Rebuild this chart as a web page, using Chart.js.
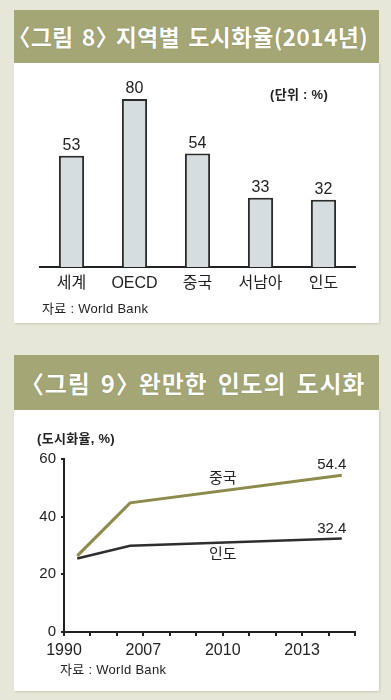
<!DOCTYPE html>
<html>
<head>
<meta charset="utf-8">
<script src="https://cdn.jsdelivr.net/npm/chart.js@4.4.1/dist/chart.umd.min.js"></script>
<style>
  html, body { margin: 0; padding: 0; }
  body { width: 391px; height: 700px; background: #e7e7d9; position: relative; overflow: hidden;
         font-family: "Liberation Sans", "Noto Sans CJK KR", sans-serif; color: #222; }
  .panel { position: absolute; left: 14px; width: 365px; }
  .head { height: 53px; background: #a4a675; color: #fff; font-family: "Noto Sans CJK KR", sans-serif;
          font-weight: bold; font-size: 23px; line-height: 53px; white-space: nowrap; letter-spacing: 0.2px;
          word-spacing: 3px; font-feature-settings: "halt"; text-shadow: 0 0 1px #6d6f45; }
  .body { position: relative; background: #fff; box-shadow: 1px 1px 2px #c9c9b6; }
  .note { position: absolute; font-size: 13px; white-space: nowrap; letter-spacing: 0.3px; }
  canvas { display: block; }
</style>
</head>
<body>
<div class="panel" style="top:10px">
  <div class="head" style="padding-left:5px">〈그림 8〉 지역별 도시화율(2014년)</div>
  <div class="body" style="height:260px">
    <canvas id="bars" width="365" height="260"></canvas>
    <div class="note" style="left:256px; top:21px; font-weight:bold">(단위 : %)</div>
    <div class="note" style="left:28px; top:235px">자료 : World Bank</div>
  </div>
</div>
<div class="panel" style="top:355px">
  <div class="head" style="padding-left:18px; height:55px; line-height:55px; font-size:24px; letter-spacing:0.8px; word-spacing:4px">〈그림 9〉 완만한 인도의 도시화</div>
  <div class="body" style="height:281px">
    <canvas id="lines" width="365" height="281"></canvas>
    <div class="note" style="left:23px; top:18px; font-weight:bold">(도시화율, %)</div>
    <div class="note" style="left:46px; top:249px">자료 : World Bank</div>
  </div>
</div>
<script>
// 그림 8: 지역별 도시화율 (2014년, %)
const regions = ['세계', 'OECD', '중국', '서남아', '인도'];
const urbanRate2014 = [53, 80, 54, 33, 32];

// 그림 9: 도시화율 추이 (%), x는 축 눈금 위치
const yearTickLabels = ['1990', '', '', '2007', '', '', '2010', '', '', '2013', '', ''];
const trendX = [0.5, 2.5, 10.5];
const chinaRate = [26.4, 44.8, 54.4];
const indiaRate = [25.5, 29.9, 32.4];

const ink = '#222';

const barLabels = {
  id: 'barLabels',
  afterDatasetsDraw(chart) {
    const ctx = chart.ctx;
    const meta = chart.getDatasetMeta(0);
    ctx.save();
    ctx.font = '16px "Liberation Sans", sans-serif';
    ctx.fillStyle = ink;
    ctx.textAlign = 'center';
    ctx.textBaseline = 'bottom';
    meta.data.forEach((bar, i) => {
      ctx.fillText(String(urbanRate2014[i]), bar.x, bar.y - 2);
    });
    ctx.restore();
  }
};

new Chart(document.getElementById('bars'), {
  type: 'bar',
  data: {
    labels: regions,
    datasets: [{
      data: urbanRate2014,
      backgroundColor: '#d5dde0',
      borderColor: '#2b2b2b',
      borderWidth: 2,
      borderSkipped: 'bottom',
      barPercentage: 0.4,
      categoryPercentage: 1
    }]
  },
  options: {
    responsive: false,
    animation: false,
    layout: { padding: { left: 26, right: 24, top: 15, bottom: 0 } },
    plugins: { legend: { display: false }, tooltip: { enabled: false } },
    scales: {
      x: {
        grid: { display: false, drawTicks: false },
        border: { color: ink, width: 2 },
        ticks: { color: ink, padding: 7, font: { size: 16, family: '"Liberation Sans", "Noto Sans CJK KR", sans-serif' } },
        afterFit: s => { s.height = 56; }
      },
      y: { display: false, min: 0, max: 90 }
    }
  },
  plugins: [barLabels]
});

const lineLabels = {
  id: 'lineLabels',
  afterDatasetsDraw(chart) {
    const ctx = chart.ctx;
    const x = chart.scales.x, y = chart.scales.y;
    ctx.save();
    ctx.font = '15px "Liberation Sans", "Noto Sans CJK KR", sans-serif';
    ctx.fillStyle = ink;
    ctx.textAlign = 'center';
    ctx.textBaseline = 'middle';
    // end values
    const last = trendX.length - 1;
    ctx.fillText(chinaRate[last].toFixed(1), x.getPixelForValue(trendX[last]) - 10, y.getPixelForValue(chinaRate[last]) - 10);
    ctx.fillText(indiaRate[last].toFixed(1), x.getPixelForValue(trendX[last]) - 10, y.getPixelForValue(indiaRate[last]) - 10);
    // series names
    const at = 6;
    const interp = (arr) => {
      const k = trendX.findIndex((v, i) => i < last && at >= v && at <= trendX[i + 1]);
      const t = (at - trendX[k]) / (trendX[k + 1] - trendX[k]);
      return arr[k] + t * (arr[k + 1] - arr[k]);
    };
    ctx.fillText('중국', x.getPixelForValue(at), y.getPixelForValue(interp(chinaRate)) - 12);
    ctx.fillText('인도', x.getPixelForValue(at), y.getPixelForValue(interp(indiaRate)) + 12);
    ctx.restore();
  }
};

const tickFont = { size: 16, family: '"Liberation Sans", sans-serif' };

new Chart(document.getElementById('lines'), {
  type: 'line',
  data: {
    datasets: [
      { label: '중국', data: trendX.map((v, i) => ({ x: v, y: chinaRate[i] })), borderColor: '#8d8a4b', borderWidth: 3, pointRadius: 0, tension: 0 },
      { label: '인도', data: trendX.map((v, i) => ({ x: v, y: indiaRate[i] })), borderColor: '#2e2e2e', borderWidth: 2.5, pointRadius: 0, tension: 0 }
    ]
  },
  options: {
    responsive: false,
    animation: false,
    layout: { padding: { left: 0, right: 24, top: 49, bottom: 0 } },
    plugins: { legend: { display: false }, tooltip: { enabled: false } },
    scales: {
      x: {
        type: 'linear', min: 0, max: yearTickLabels.length - 1,
        grid: { drawOnChartArea: false, drawTicks: true, tickLength: 4, color: ink, lineWidth: 2 },
        border: { color: ink, width: 2 },
        ticks: {
          stepSize: 1, autoSkip: false, maxRotation: 0, color: ink, padding: 5, font: tickFont,
          callback: v => yearTickLabels[v]
        },
        afterFit: s => { s.height = 59; }
      },
      y: {
        min: 0, max: 60,
        grid: { drawOnChartArea: false, drawTicks: true, tickLength: 3, color: ink, lineWidth: 2 },
        border: { color: ink, width: 2 },
        ticks: { stepSize: 20, color: ink, padding: 5, font: { size: 15, family: '"Liberation Sans", sans-serif' } },
        afterFit: s => { s.width = 50; }
      }
    }
  },
  plugins: [lineLabels]
});
</script>
</body>
</html>
